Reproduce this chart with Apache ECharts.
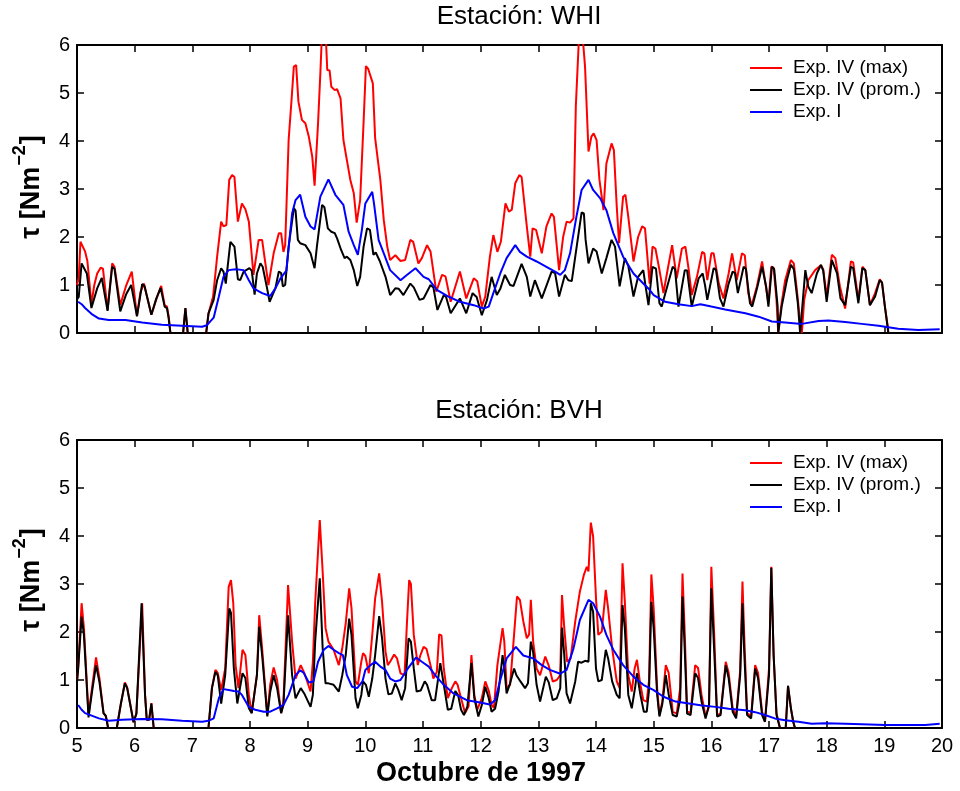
<!DOCTYPE html>
<html>
<head>
<meta charset="utf-8">
<script src="https://cdn.jsdelivr.net/npm/echarts@6/dist/echarts.min.js"></script>
<style>html,body{margin:0;padding:0;background:#fff}#c{width:960px;height:791px}</style>
</head>
<body>
<div id="c"></div>
<script>
// ---------- DATA (day of October 1997, tau in N m^-2) ----------
const seriesNames = ['Exp. IV (max)', 'Exp. IV (prom.)', 'Exp. I'];
const xTicks = [5,6,7,8,9,10,11,12,13,14,15,16,17,18,19,20];
const yTicks = [0,1,2,3,4,5,6];

const whiMax = [[5.00,1.00],[5.03,1.15],[5.06,1.90],[5.10,1.80],[5.14,1.70],[5.18,1.50],[5.25,0.60],[5.30,1.00],[5.35,1.24],[5.41,1.36],[5.45,1.34],[5.53,0.48],[5.61,1.45],[5.65,1.38],[5.75,0.58],[5.85,0.98],[5.95,1.28],[6.04,0.35],[6.10,0.85],[6.16,1.03],[6.19,1.00],[6.29,0.38],[6.38,0.72],[6.46,0.98],[6.52,0.58],[6.56,0.55],[6.59,0.35],[6.62,0],[6.84,0],[6.88,0.52],[6.92,0],[7.24,0],[7.28,0.40],[7.36,0.76],[7.43,1.59],[7.50,2.32],[7.54,2.22],[7.59,2.25],[7.64,3.19],[7.69,3.29],[7.73,3.25],[7.79,2.32],[7.86,2.70],[7.92,2.58],[7.98,2.32],[8.06,1.21],[8.15,1.94],[8.21,1.94],[8.25,1.59],[8.32,1.00],[8.41,1.66],[8.50,2.08],[8.54,2.08],[8.58,1.69],[8.61,1.83],[8.67,4.02],[8.72,4.85],[8.76,5.55],[8.80,5.58],[8.84,4.82],[8.90,4.44],[8.96,4.37],[9.02,4.09],[9.08,3.67],[9.12,3.07],[9.18,4.37],[9.22,5.41],[9.25,6.30],[9.31,6.30],[9.34,5.48],[9.38,5.47],[9.41,5.13],[9.47,5.06],[9.51,5.08],[9.57,4.89],[9.62,4.02],[9.68,3.60],[9.74,3.19],[9.80,2.91],[9.85,2.30],[9.91,2.77],[9.97,4.40],[10.01,5.56],[10.05,5.50],[10.13,5.20],[10.17,4.06],[10.20,4.06],[10.26,3.19],[10.32,2.35],[10.38,1.80],[10.43,1.52],[10.52,1.62],[10.61,1.50],[10.69,1.52],[10.78,1.94],[10.83,1.90],[10.92,1.45],[10.98,1.56],[11.07,1.83],[11.13,1.70],[11.23,0.86],[11.33,1.21],[11.39,1.18],[11.48,0.65],[11.64,1.28],[11.75,0.72],[11.88,1.14],[11.94,1.08],[12.02,0.55],[12.08,0.76],[12.16,1.59],[12.22,2.04],[12.25,2.02],[12.29,1.69],[12.35,1.90],[12.43,2.70],[12.49,2.53],[12.54,2.57],[12.60,3.12],[12.67,3.29],[12.71,3.25],[12.80,2.22],[12.86,1.59],[12.90,2.18],[12.96,2.15],[13.06,1.66],[13.14,2.22],[13.23,2.49],[13.27,2.42],[13.36,1.31],[13.43,2.00],[13.49,2.32],[13.55,2.30],[13.61,2.39],[13.65,4.72],[13.71,6.30],[13.76,6.30],[13.81,5.55],[13.87,3.78],[13.92,4.09],[13.96,4.16],[14.01,4.02],[14.06,3.19],[14.13,2.56],[14.18,3.53],[14.27,3.95],[14.31,3.81],[14.36,2.63],[14.40,1.87],[14.47,2.84],[14.51,2.88],[14.56,2.42],[14.65,1.49],[14.73,2.00],[14.80,2.22],[14.85,2.18],[14.93,1.03],[14.98,1.80],[15.03,1.76],[15.09,1.38],[15.17,0.83],[15.23,1.24],[15.32,1.83],[15.35,1.80],[15.40,1.14],[15.49,1.76],[15.55,1.80],[15.61,1.30],[15.66,0.79],[15.75,1.17],[15.84,1.69],[15.88,1.66],[15.93,1.10],[16.00,1.66],[16.04,1.66],[16.13,1.03],[16.21,0.72],[16.30,1.24],[16.36,1.66],[16.39,1.62],[16.44,1.10],[16.53,1.66],[16.58,1.62],[16.64,0.83],[16.70,0.58],[16.79,0.97],[16.88,1.49],[16.93,1.10],[16.99,0.62],[17.04,1.38],[17.08,1.36],[17.13,0.69],[17.16,0],[17.18,0],[17.21,0.55],[17.28,1.10],[17.38,1.52],[17.43,1.45],[17.48,0.93],[17.54,0.24],[17.57,0],[17.61,0.69],[17.68,1.10],[17.80,1.31],[17.90,1.41],[17.94,1.33],[18.00,0.76],[18.09,1.63],[18.15,1.56],[18.23,0.97],[18.32,0.51],[18.42,1.49],[18.46,1.47],[18.55,0.69],[18.62,1.38],[18.67,1.31],[18.75,0.58],[18.84,0.83],[18.92,1.12],[18.96,1.05],[19.01,0.55],[19.06,0.13],[19.07,0]];

const whiAvg = [[5.00,0.70],[5.03,0.75],[5.08,1.45],[5.11,1.47],[5.17,1.24],[5.25,0.52],[5.35,0.93],[5.43,1.15],[5.46,1.12],[5.53,0.46],[5.61,1.38],[5.65,1.34],[5.75,0.45],[5.85,0.80],[5.94,1.00],[6.04,0.35],[6.13,1.02],[6.17,0.98],[6.29,0.38],[6.37,0.70],[6.45,0.94],[6.52,0.55],[6.56,0.52],[6.59,0.30],[6.62,0],[6.84,0],[6.88,0.52],[6.92,0],[7.24,0],[7.28,0.41],[7.37,0.69],[7.43,1.10],[7.50,1.35],[7.54,1.28],[7.58,1.03],[7.66,1.90],[7.69,1.94],[7.73,1.80],[7.79,1.12],[7.83,1.10],[7.89,1.28],[7.99,1.35],[8.03,1.30],[8.08,0.80],[8.12,1.24],[8.18,1.45],[8.22,1.38],[8.29,0.97],[8.34,0.65],[8.44,0.93],[8.50,1.28],[8.54,1.25],[8.57,0.97],[8.61,1.00],[8.67,1.80],[8.76,2.60],[8.79,2.55],[8.83,1.94],[8.87,1.87],[8.96,1.83],[9.05,1.66],[9.12,1.35],[9.16,1.80],[9.25,2.67],[9.29,2.62],[9.35,2.18],[9.41,2.11],[9.47,2.08],[9.51,1.97],[9.58,1.73],[9.64,1.56],[9.68,1.59],[9.74,1.52],[9.80,1.31],[9.86,0.98],[9.91,1.17],[9.97,1.80],[10.03,2.18],[10.08,2.15],[10.14,1.63],[10.18,1.68],[10.25,1.50],[10.35,1.17],[10.43,0.79],[10.52,0.93],[10.58,0.92],[10.66,0.79],[10.78,1.03],[10.84,0.95],[10.94,0.69],[11.01,0.72],[11.13,1.00],[11.18,0.95],[11.25,0.48],[11.36,0.79],[11.40,0.75],[11.48,0.41],[11.64,0.72],[11.75,0.41],[11.86,0.83],[11.93,0.75],[12.02,0.37],[12.11,0.69],[12.19,1.17],[12.28,0.79],[12.34,0.92],[12.42,1.21],[12.51,1.00],[12.57,0.98],[12.71,1.44],[12.80,1.17],[12.86,0.76],[12.94,1.10],[13.06,0.72],[13.23,1.28],[13.29,1.25],[13.36,0.76],[13.46,1.21],[13.52,1.10],[13.58,1.08],[13.66,1.76],[13.75,2.51],[13.79,2.49],[13.82,1.94],[13.87,1.45],[13.95,1.76],[14.01,1.70],[14.10,1.24],[14.18,1.56],[14.27,1.94],[14.33,1.80],[14.41,0.97],[14.50,1.56],[14.56,1.40],[14.65,0.76],[14.73,1.17],[14.82,1.31],[14.86,0.97],[14.91,0.58],[14.98,1.38],[15.04,1.34],[15.10,0.62],[15.14,0.55],[15.23,0.95],[15.33,1.38],[15.37,1.33],[15.43,0.55],[15.54,1.31],[15.58,1.30],[15.66,0.55],[15.78,1.14],[15.85,1.24],[15.89,1.00],[15.93,0.69],[16.04,1.35],[16.08,1.32],[16.15,0.72],[16.21,0.55],[16.30,1.03],[16.37,1.28],[16.41,1.25],[16.46,0.83],[16.56,1.38],[16.60,1.33],[16.67,0.62],[16.71,0.55],[16.80,0.97],[16.88,1.38],[16.95,0.97],[16.99,0.55],[17.05,1.38],[17.09,1.33],[17.15,0.55],[17.16,0],[17.19,0],[17.22,0.55],[17.31,1.10],[17.38,1.42],[17.43,1.33],[17.50,0.62],[17.54,0],[17.57,0],[17.63,1.31],[17.68,0.97],[17.74,0.83],[17.83,1.24],[17.90,1.42],[17.94,1.30],[18.00,0.65],[18.09,1.52],[18.12,1.55],[18.18,1.24],[18.24,0.72],[18.32,0.58],[18.42,1.38],[18.46,1.35],[18.55,0.62],[18.62,1.35],[18.67,1.31],[18.75,0.58],[18.84,0.76],[18.92,1.10],[18.96,1.05],[19.01,0.55],[19.07,0]];

const whiExp1 = [[5.02,0.65],[5.08,0.60],[5.14,0.52],[5.25,0.40],[5.38,0.30],[5.55,0.27],[5.84,0.27],[6.13,0.22],[6.47,0.17],[6.82,0.15],[7.17,0.13],[7.25,0.16],[7.37,0.32],[7.46,0.76],[7.54,1.17],[7.63,1.31],[7.75,1.33],[7.89,1.31],[7.98,1.10],[8.06,0.93],[8.21,0.83],[8.35,0.77],[8.44,0.93],[8.53,1.14],[8.63,1.30],[8.73,2.49],[8.79,2.77],[8.87,2.88],[8.96,2.42],[9.05,2.22],[9.12,2.16],[9.22,2.84],[9.36,3.20],[9.48,2.88],[9.62,2.67],[9.71,2.11],[9.80,1.83],[9.87,1.63],[9.94,2.15],[10.00,2.70],[10.12,2.94],[10.15,2.70],[10.23,1.94],[10.32,1.66],[10.43,1.31],[10.61,1.10],[10.72,1.21],[10.87,1.35],[11.01,1.17],[11.10,1.12],[11.24,0.90],[11.44,0.76],[11.64,0.65],[11.88,0.58],[12.05,0.51],[12.14,0.55],[12.22,0.83],[12.34,1.24],[12.45,1.56],[12.60,1.83],[12.68,1.69],[12.80,1.59],[12.97,1.49],[13.14,1.38],[13.29,1.28],[13.38,1.21],[13.46,1.31],[13.55,1.66],[13.66,2.42],[13.75,2.98],[13.87,3.19],[13.95,2.98],[14.07,2.81],[14.18,2.56],[14.30,2.08],[14.47,1.59],[14.65,1.24],[14.82,1.03],[14.93,0.90],[15.00,0.79],[15.20,0.65],[15.43,0.60],[15.66,0.56],[15.81,0.60],[16.00,0.55],[16.24,0.49],[16.59,0.41],[16.82,0.34],[17.05,0.24],[17.28,0.22],[17.57,0.19],[17.86,0.25],[18.03,0.26],[18.32,0.23],[18.61,0.19],[18.90,0.15],[19.24,0.09],[19.59,0.06],[19.96,0.08]];

const bvhMax = [[5.00,1.00],[5.02,1.24],[5.08,2.60],[5.12,2.08],[5.20,0.27],[5.26,0.83],[5.33,1.47],[5.39,1.03],[5.46,0.31],[5.50,0.25],[5.54,0],[5.69,0],[5.76,0.50],[5.83,0.95],[5.87,0.85],[5.98,0.12],[6.03,0.30],[6.13,2.60],[6.18,0.69],[6.21,0.17],[6.25,0.17],[6.29,0.52],[6.33,0],[7.28,0],[7.34,0.83],[7.40,1.21],[7.44,1.15],[7.50,0.79],[7.57,1.24],[7.63,2.94],[7.67,3.08],[7.71,2.60],[7.75,1.31],[7.80,0.83],[7.87,1.63],[7.92,1.52],[7.98,0.69],[8.03,0.31],[8.12,1.10],[8.16,2.35],[8.21,1.66],[8.30,0.27],[8.35,0.90],[8.41,1.26],[8.47,1.00],[8.54,0.31],[8.58,0.55],[8.66,2.98],[8.69,2.98],[8.73,1.80],[8.79,1.03],[8.88,1.31],[8.94,1.15],[9.05,0.76],[9.09,1.38],[9.13,2.60],[9.21,4.33],[9.26,3.26],[9.31,2.08],[9.36,1.80],[9.45,1.63],[9.54,1.31],[9.60,1.66],[9.66,2.18],[9.72,2.91],[9.76,2.50],[9.83,0.97],[9.87,0.90],[9.93,1.38],[9.96,1.56],[10.00,1.50],[10.06,1.14],[10.12,1.94],[10.17,2.70],[10.24,3.22],[10.29,2.63],[10.35,1.59],[10.39,1.31],[10.44,1.40],[10.50,1.53],[10.55,1.45],[10.61,1.14],[10.68,1.10],[10.72,2.15],[10.76,3.08],[10.79,3.00],[10.84,1.94],[10.91,1.31],[10.95,1.50],[11.01,1.69],[11.06,1.65],[11.13,1.31],[11.18,1.03],[11.24,1.17],[11.28,1.95],[11.32,1.93],[11.36,1.24],[11.43,0.62],[11.50,0.83],[11.56,0.97],[11.60,0.90],[11.66,0.62],[11.73,0.31],[11.79,0.45],[11.84,1.52],[11.89,0.69],[11.94,0.38],[12.02,0.62],[12.08,0.97],[12.14,0.78],[12.19,0.48],[12.23,0.42],[12.29,1.31],[12.38,2.08],[12.41,1.80],[12.45,0.83],[12.51,0.90],[12.57,1.80],[12.63,2.74],[12.68,2.67],[12.74,2.22],[12.80,1.87],[12.84,1.95],[12.87,2.67],[12.91,1.80],[12.97,1.24],[13.03,1.10],[13.12,1.49],[13.18,1.30],[13.25,0.97],[13.32,1.00],[13.38,1.10],[13.41,2.77],[13.45,2.08],[13.50,1.38],[13.56,1.45],[13.64,2.22],[13.72,2.84],[13.79,3.19],[13.84,3.36],[13.87,3.26],[13.91,4.28],[13.95,3.99],[14.00,2.70],[14.04,1.94],[14.10,2.01],[14.17,2.88],[14.21,2.49],[14.28,1.66],[14.36,0.97],[14.41,0.83],[14.46,3.43],[14.50,2.63],[14.56,1.10],[14.62,0.76],[14.67,1.24],[14.71,1.42],[14.76,0.97],[14.82,0.58],[14.88,0.55],[14.92,1.00],[14.96,3.20],[15.00,2.49],[15.06,0.83],[15.10,0.27],[15.15,0.55],[15.21,1.31],[15.26,1.15],[15.33,0.34],[15.40,0.30],[15.46,0.83],[15.50,3.22],[15.54,1.94],[15.58,0.34],[15.64,0.32],[15.72,1.31],[15.77,1.25],[15.83,0.69],[15.90,0.24],[15.96,0.45],[16.00,3.36],[16.05,1.94],[16.10,0.27],[16.16,0.30],[16.25,1.38],[16.30,1.15],[16.37,0.41],[16.43,0.24],[16.50,1.20],[16.54,3.05],[16.57,1.94],[16.62,0.31],[16.69,0.24],[16.76,1.31],[16.81,1.15],[16.88,0.34],[16.93,0.13],[17.00,1.24],[17.04,3.36],[17.08,1.52],[17.13,0.31],[17.19,0],[17.29,0],[17.33,0.88],[17.38,0.41],[17.42,0.13],[17.45,0],[19.07,0]];

const bvhAvg = [[5.00,0.95],[5.02,1.24],[5.08,2.32],[5.12,1.94],[5.20,0.22],[5.26,0.75],[5.33,1.31],[5.39,0.95],[5.46,0.31],[5.50,0.25],[5.54,0],[5.69,0],[5.76,0.50],[5.83,0.93],[5.87,0.83],[5.98,0.12],[6.03,0.30],[6.12,2.60],[6.18,0.69],[6.21,0.17],[6.25,0.17],[6.29,0.51],[6.33,0],[7.28,0],[7.34,0.83],[7.40,1.17],[7.44,1.10],[7.50,0.51],[7.57,1.10],[7.64,2.49],[7.67,2.40],[7.72,1.24],[7.78,0.51],[7.81,0.55],[7.87,1.14],[7.92,1.04],[7.98,0.41],[8.03,0.31],[8.12,1.10],[8.16,2.11],[8.21,1.52],[8.30,0.24],[8.35,0.75],[8.41,1.10],[8.47,0.83],[8.54,0.31],[8.58,0.48],[8.66,2.35],[8.69,2.32],[8.73,1.10],[8.79,0.62],[8.88,0.83],[8.94,0.72],[9.05,0.44],[9.09,0.69],[9.13,1.80],[9.21,3.12],[9.26,1.66],[9.31,0.93],[9.36,0.93],[9.45,0.90],[9.54,0.76],[9.60,1.10],[9.66,1.52],[9.72,2.28],[9.76,1.94],[9.83,0.62],[9.87,0.41],[9.93,0.69],[9.96,0.97],[10.01,0.90],[10.06,0.65],[10.12,1.03],[10.17,1.52],[10.24,2.33],[10.29,1.87],[10.35,1.03],[10.40,0.70],[10.46,0.72],[10.52,0.93],[10.57,0.80],[10.63,0.58],[10.69,0.83],[10.75,1.87],[10.79,1.80],[10.84,1.24],[10.89,0.76],[10.96,0.78],[11.03,0.97],[11.07,0.90],[11.15,0.58],[11.21,0.58],[11.30,1.35],[11.33,1.32],[11.38,0.76],[11.43,0.38],[11.49,0.40],[11.56,0.77],[11.61,0.68],[11.66,0.38],[11.71,0.27],[11.77,0.45],[11.84,1.35],[11.89,0.62],[11.96,0.24],[12.02,0.48],[12.08,0.86],[12.14,0.62],[12.19,0.34],[12.25,0.40],[12.31,0.76],[12.38,1.52],[12.41,1.25],[12.45,0.72],[12.51,0.93],[12.58,1.24],[12.62,1.10],[12.69,0.97],[12.77,0.83],[12.82,0.93],[12.87,1.80],[12.91,1.58],[12.97,0.90],[13.03,0.55],[13.13,1.07],[13.18,0.95],[13.25,0.58],[13.32,0.62],[13.38,0.83],[13.41,2.09],[13.45,1.52],[13.49,0.72],[13.55,0.51],[13.64,0.97],[13.69,1.38],[13.75,1.36],[13.81,1.40],[13.87,1.38],[13.91,2.60],[13.95,2.42],[14.00,1.24],[14.04,0.97],[14.10,1.00],[14.17,1.63],[14.21,1.45],[14.28,0.97],[14.36,0.69],[14.41,0.62],[14.46,2.56],[14.50,2.08],[14.56,0.69],[14.62,0.41],[14.68,0.86],[14.71,1.14],[14.77,0.69],[14.83,0.34],[14.88,0.34],[14.92,0.80],[14.96,2.63],[15.00,2.08],[15.06,0.70],[15.10,0.24],[15.15,0.50],[15.21,1.10],[15.26,0.70],[15.33,0.27],[15.40,0.24],[15.46,0.60],[15.50,2.74],[15.54,1.60],[15.58,0.30],[15.64,0.27],[15.72,1.14],[15.77,1.04],[15.83,0.55],[15.90,0.20],[15.96,0.48],[16.00,2.91],[16.05,1.60],[16.10,0.24],[16.16,0.27],[16.25,1.31],[16.30,1.04],[16.37,0.34],[16.43,0.20],[16.50,1.10],[16.54,2.60],[16.57,1.60],[16.62,0.27],[16.69,0.20],[16.76,1.24],[16.81,1.04],[16.88,0.27],[16.93,0.13],[17.00,1.10],[17.04,3.34],[17.08,1.52],[17.13,0.27],[17.19,0],[17.29,0],[17.33,0.88],[17.38,0.41],[17.42,0.13],[17.45,0],[19.07,0]];

const bvhExp1 = [[5.02,0.48],[5.08,0.38],[5.14,0.31],[5.38,0.20],[5.55,0.15],[5.78,0.17],[6.13,0.19],[6.47,0.18],[6.82,0.15],[7.17,0.13],[7.28,0.15],[7.37,0.20],[7.46,0.62],[7.54,0.81],[7.63,0.79],[7.72,0.77],[7.80,0.76],[7.86,0.69],[7.98,0.44],[8.09,0.38],[8.24,0.34],[8.35,0.34],[8.47,0.41],[8.58,0.48],[8.67,0.69],[8.79,1.10],[8.87,1.20],[8.93,1.15],[9.02,0.95],[9.10,0.97],[9.18,1.38],[9.28,1.63],[9.36,1.71],[9.45,1.63],[9.54,1.56],[9.61,1.52],[9.68,1.10],[9.77,0.86],[9.86,0.83],[9.95,0.97],[10.00,1.21],[10.09,1.31],[10.17,1.38],[10.26,1.28],[10.35,1.21],[10.43,1.03],[10.52,0.97],[10.61,1.00],[10.72,1.21],[10.88,1.47],[10.98,1.38],[11.10,1.28],[11.21,1.10],[11.36,0.90],[11.53,0.72],[11.76,0.58],[11.99,0.53],[12.16,0.49],[12.25,0.58],[12.34,1.00],[12.45,1.45],[12.61,1.69],[12.74,1.51],[12.91,1.45],[13.06,1.31],[13.20,1.21],[13.38,1.13],[13.49,1.21],[13.61,1.66],[13.72,2.25],[13.87,2.67],[13.95,2.60],[14.07,2.32],[14.18,1.94],[14.30,1.63],[14.47,1.31],[14.65,1.07],[14.82,0.90],[15.00,0.79],[15.17,0.65],[15.38,0.55],[15.61,0.51],[15.84,0.47],[16.07,0.44],[16.30,0.40],[16.59,0.37],[16.76,0.33],[16.93,0.27],[17.10,0.20],[17.28,0.16],[17.51,0.13],[17.74,0.09],[17.97,0.10],[18.32,0.09],[18.61,0.08],[19.01,0.06],[19.36,0.06],[19.71,0.06],[19.96,0.09]];

// ---------- CHART ----------
const FONT = "'Liberation Sans', Arial, Helvetica, sans-serif";
const colors = ['#ff0000', '#000000', '#0000ff'];
const grids = [
  {left: 77, top: 45, width: 865, height: 288},
  {left: 77, top: 440, width: 865, height: 288}
];

function xAx(gi, pos, labels) {
  return {
    type: 'value', gridIndex: gi, position: pos, min: xTicks[0], max: xTicks[xTicks.length-1], interval: 1,
    axisLine: {show: true, onZero: false, lineStyle: {color: '#000', width: 2}},
    axisTick: {show: true, inside: true, length: 7, lineStyle: {color: '#000', width: 1.5}},
    axisLabel: {show: labels, color: '#000', fontSize: 20, fontFamily: FONT, margin: 8},
    splitLine: {show: false}
  };
}
function yAx(gi, pos, labels) {
  return {
    type: 'value', gridIndex: gi, position: pos, min: yTicks[0], max: yTicks[yTicks.length-1], interval: 1,
    axisLine: {show: true, onZero: false, lineStyle: {color: '#000', width: 2}},
    axisTick: {show: true, inside: true, length: 7, lineStyle: {color: '#000', width: 1.5}},
    axisLabel: {show: labels, color: '#000', fontSize: 20, fontFamily: FONT, margin: 7},
    splitLine: {show: false}
  };
}

const panels = [[whiMax, whiAvg, whiExp1], [bvhMax, bvhAvg, bvhExp1]];
const series = [];
panels.forEach((arrs, gi) => {
  arrs.forEach((d, k) => {
    series.push({
      type: 'line', name: seriesNames[k], xAxisIndex: gi * 2, yAxisIndex: gi * 2,
      data: d, showSymbol: false, symbol: 'none', clip: true, z: 2 + k,
      lineStyle: {color: colors[k], width: 2}, itemStyle: {color: colors[k]},
      animation: false
    });
  });
});

function legendAt(top) {
  return {
    data: seriesNames, orient: 'vertical', left: 750, top: top, padding: 0,
    itemWidth: 32, itemHeight: 2, itemGap: 0, icon: 'rect', selectedMode: false,
    textStyle: {fontSize: 19, fontFamily: FONT, color: '#000', lineHeight: 22, padding: [0, 0, 0, 6]}
  };
}

function yName(cx, cy) {
  const ctx = document.createElement('canvas').getContext('2d');
  const big = 'bold 27px ' + FONT, small = 'bold 18px ' + FONT;
  ctx.font = big;
  const w1 = ctx.measureText('\u03c4 [Nm').width, w3 = ctx.measureText(']').width;
  ctx.font = small;
  const w2 = ctx.measureText('\u22122').width;
  const W = w1 + w2 + w3 + 2;
  const x0 = -W / 2;
  const st = (t, f) => ({text: t, font: f, fill: '#000', align: 'left', verticalAlign: 'middle'});
  return {
    type: 'group', x: cx, y: cy, rotation: Math.PI / 2,
    children: [
      {type: 'text', x: x0, y: 0, style: st('\u03c4 [Nm', big)},
      {type: 'text', x: x0 + w1 + 1, y: -12, style: st('\u22122', small)},
      {type: 'text', x: x0 + w1 + w2 + 2, y: 0, style: st(']', big)}
    ]
  };
}

const option = {
  backgroundColor: '#fff',
  animation: false,
  grid: grids,
  xAxis: [xAx(0, 'bottom', false), xAx(0, 'top', false), xAx(1, 'bottom', true), xAx(1, 'top', false)],
  yAxis: [yAx(0, 'left', true), yAx(0, 'right', false), yAx(1, 'left', true), yAx(1, 'right', false)],
  legend: [legendAt(57), legendAt(452)],
  series: series,
  graphic: [
    {type: 'text', x: 519, y: 17, style: {text: 'Estaci\u00f3n: WHI', font: '26px ' + FONT, fill: '#000', align: 'center', verticalAlign: 'middle'}},
    {type: 'text', x: 519, y: 411, style: {text: 'Estaci\u00f3n: BVH', font: '26px ' + FONT, fill: '#000', align: 'center', verticalAlign: 'middle'}},
    {type: 'text', x: 481, y: 774, style: {text: 'Octubre de 1997', font: 'bold 27px ' + FONT, fill: '#000', align: 'center', verticalAlign: 'middle'}},
    yName(32, 187),
    yName(32, 580)
  ]
};

const chart = echarts.init(document.getElementById('c'), null, {renderer: 'canvas'});
chart.setOption(option);
</script>
</body>
</html>
